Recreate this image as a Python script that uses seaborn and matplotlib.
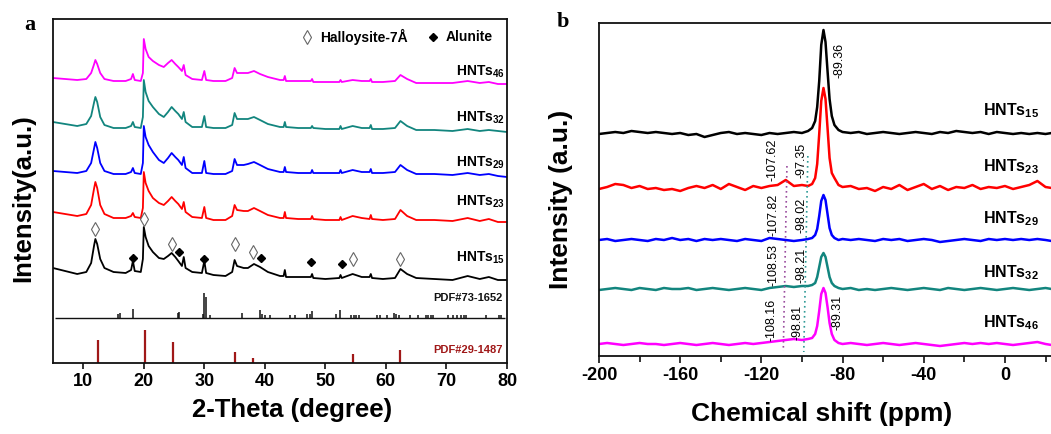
import matplotlib
matplotlib.use("Agg")
import matplotlib.pyplot as plt
from matplotlib.ticker import MultipleLocator, NullLocator
import seaborn as sns

# ---------------- panel a : XRD ----------------
XRD_2THETA = [5, 7, 9, 10.5, 11.3, 11.8, 12.0, 12.3, 12.8, 13.5, 15, 17, 17.9, 18.2, 18.5,
              19.5, 19.85, 20.0, 20.3, 20.8, 21.5, 22.5, 23.3, 24.0, 24.6, 25.2, 25.7, 26.3,
              26.6, 26.9, 28, 29.6, 30.0, 30.3, 31.5, 33.5, 34.6, 35.0, 35.4, 36.5, 37.2, 38.2,
              39.2, 40.5, 42.5, 43.1, 43.3, 43.5, 45.5, 47.6, 47.8, 48.0, 50, 52.3, 52.5, 52.7,
              54.5, 56, 57.3, 57.5, 57.7, 59.5, 61.5, 62.4, 63.5, 65, 68, 71, 73.5, 75.5, 77,
              78.5, 80]

XRD_HNTS15 = [95, 92, 89, 91, 100, 118, 124, 119, 104, 95, 91, 90, 93, 102, 92,
              91, 104, 136, 126, 117, 111, 105, 104, 107, 110, 106, 102, 97,
              106, 95, 91, 90, 102, 90, 88, 87, 91, 103, 97, 95, 95, 99,
              96, 91, 87, 87, 93, 86, 86, 86, 89, 85, 84, 85, 88, 85,
              89, 86, 86, 89, 85, 84, 85, 94, 89, 85, 84, 83, 87, 84, 86,
              83, 83]
XRD_HNTS23 = [151, 149, 147, 149, 158, 175, 181, 175, 158, 149, 145, 145, 147, 150, 146,
              145, 155, 191, 180, 172, 165, 160, 158, 162, 166, 162, 159, 154,
              161, 151, 146, 145, 156, 145, 143, 143, 147, 158, 153, 152, 152, 155,
              152, 148, 145, 145, 151, 145, 144, 144, 147, 144, 143, 143, 146, 143,
              147, 145, 144, 148, 144, 143, 144, 153, 147, 143, 143, 142, 145, 142, 144,
              141, 141]
XRD_HNTS29 = [192, 191, 190, 192, 200, 215, 221, 215, 200, 192, 189, 189, 191, 195, 190,
              189, 200, 237, 226, 218, 211, 203, 200, 205, 210, 206, 203, 198,
              206, 195, 190, 190, 202, 190, 189, 189, 192, 204, 198, 198, 199, 201,
              198, 194, 191, 191, 196, 191, 190, 190, 193, 190, 190, 190, 193, 190,
              193, 191, 191, 194, 190, 190, 191, 198, 193, 189, 189, 188, 190, 188, 189,
              187, 186]
XRD_HNTS32 = [241, 239, 237, 239, 247, 261, 266, 261, 246, 238, 235, 235, 237, 241, 236,
              235, 246, 283, 271, 262, 256, 249, 246, 251, 256, 252, 249, 244,
              251, 241, 236, 236, 247, 236, 235, 235, 238, 250, 244, 244, 244, 246,
              243, 239, 236, 236, 241, 236, 235, 235, 237, 235, 234, 234, 237, 234,
              237, 235, 235, 238, 234, 234, 235, 242, 237, 233, 233, 232, 234, 232, 233,
              232, 231]
XRD_HNTS46 = [285, 284, 283, 284, 290, 299, 303, 299, 290, 284, 282, 282, 284, 289, 283,
              282, 290, 324, 314, 306, 302, 298, 296, 300, 303, 299, 296, 292,
              298, 288, 284, 283, 292, 283, 282, 282, 285, 295, 290, 290, 290, 292,
              289, 286, 283, 283, 287, 282, 282, 282, 284, 281, 281, 281, 283, 281,
              283, 282, 282, 284, 281, 281, 282, 288, 284, 280, 280, 280, 282, 280, 281,
              279, 279]

XRD_NAMES = ["15", "23", "29", "32", "46"]

# reference pattern PDF#73-1652 (alunite), sticks above its own baseline
PDF73_POS = [15.8, 16.0, 18.2, 25.6, 25.8, 29.8, 30.0, 30.2, 30.9, 36.3, 39.2, 39.5, 40.0,
             40.8, 44.2, 45.0, 47.0, 47.4, 47.8, 51.8, 52.4, 54.3, 54.7, 55.0, 55.6, 58.6,
             59.1, 60.2, 61.3, 61.6, 62.1, 64.0, 65.3, 66.6, 67.0, 67.4, 67.8, 70.3, 71.0,
             71.7, 72.4, 72.9, 73.3, 76.5, 78.6, 79.0]
PDF73_H = [4, 5, 9, 5, 6, 4, 25, 21, 3, 5, 8, 4, 3,
           3, 3, 3, 4, 4, 7, 4, 8, 3, 3, 3, 3, 3,
           3, 3, 5, 4, 3, 3, 3, 3, 3, 3, 3, 3, 3,
           3, 3, 3, 3, 3, 3, 3]
PDF73_BASE = 45

# reference pattern PDF#29-1487 (halloysite-7A)
PDF29_POS = [12.4, 20.2, 24.8, 35.0, 38.0, 54.5, 62.4]
PDF29_H = [23, 33, 21, 11, 5, 9, 13]

# phase markers on HNTs15
HALLOYSITE_POS = [11.9, 20.1, 24.6, 35.0, 38.1, 54.5, 62.4]
HALLOYSITE_Y = [134, 144, 119, 119, 111, 104, 104]
ALUNITE_POS = [18.2, 25.8, 30.0, 39.3, 47.7, 52.7]
ALUNITE_Y = [105, 111, 104, 105, 101, 99]

# ---------------- panel b : 29Si NMR ----------------
NMR_PPM = [-200, -196, -192, -188, -184, -180, -176, -172, -168, -164, -160, -156, -152,
           -148, -144, -140, -136, -132, -128, -124, -120, -116, -112, -108, -104, -100,
           -97, -95, -93.5, -92.5, -91.5, -90.5, -89.4, -88.4, -87.4, -86.4, -85.3, -84,
           -82, -80, -76, -72, -68, -64, -60, -56, -52, -48, -44, -40, -36, -32, -28, -24,
           -20, -16, -12, -8, -4, 0, 4, 8, 12, 16, 20, 23]

NMR_HNTS15 = [222, 223, 224, 223, 225, 224, 223, 224, 223, 222, 223, 221, 222,
              219, 221, 223, 224, 222, 223, 222, 221, 223, 222, 223, 224, 223,
              225, 228, 235, 249, 275, 311, 326, 314, 285, 257, 240, 231,
              226, 224, 223, 224, 222, 223, 224, 223, 222, 223, 224, 223, 222, 224, 223, 225,
              224, 223, 224, 222, 224, 223, 222, 223, 222, 223, 222, 223]
NMR_HNTS23 = [167, 169, 172, 171, 168, 170, 167, 168, 166, 167, 165, 168, 170,
              168, 171, 167, 172, 169, 166, 170, 168, 170, 171, 176, 170, 171,
              170, 172, 178, 192, 222, 255, 268, 257, 228, 198, 183, 178,
              171, 169, 170, 167, 168, 165, 169, 167, 171, 166, 169, 172, 167, 170, 166, 169,
              168, 171, 167, 169, 168, 170, 167, 169, 171, 175, 169, 168]
NMR_HNTS29 = [116, 117, 115, 116, 117, 116, 115, 117, 116, 118, 116, 117, 115,
              117, 116, 117, 116, 115, 117, 116, 115, 118, 117, 116, 115, 116,
              117, 118, 121, 127, 140, 155, 161, 156, 142, 128, 121, 118,
              116, 117, 116, 117, 116, 115, 117, 116, 117, 115, 116, 117, 116, 114, 115, 116,
              117, 116, 115, 117, 116, 117, 116, 117, 116, 117, 116, 115]
NMR_HNTS32 = [66, 67, 68, 67, 66, 68, 67, 66, 68, 67, 67, 68, 66,
              67, 68, 67, 66, 67, 68, 67, 66, 68, 69, 70, 69, 70,
              70, 71, 73, 79, 89, 99, 103, 99, 89, 79, 73, 70,
              68, 67, 68, 66, 67, 66, 67, 68, 67, 66, 67, 68, 67, 66, 68, 67,
              66, 67, 68, 67, 66, 67, 68, 67, 66, 67, 68, 67]
NMR_HNTS46 = [12, 13, 12, 11, 12, 13, 12, 12, 11, 12, 13, 12, 11,
              12, 13, 12, 11, 12, 13, 12, 13, 14, 15, 16, 17, 16,
              17, 18, 22, 30, 45, 62, 68, 63, 49, 33, 22, 16,
              13, 12, 13, 12, 11, 12, 13, 12, 11, 12, 13, 12, 11, 10, 11, 12,
              13, 12, 13, 12, 13, 12, 11, 12, 13, 14, 12, 11]

NMR_NAMES = ["15", "23", "29", "32", "46"]
Q4_LABELS = ["-107.62", "-107.82", "-108.53", "-108.16"]
Q3_LABELS = ["-97.35", "-98.02", "-98.21", "-98.81"]
Q2_LABELS = ["-89.36", "-89.31"]
Q4_LINE_PPM = [-107.4, -109.2]
Q3_LINE_PPM = [-97.1, -99.1]

COLORS = ["#000000", "#ff0000", "#0000ff", "#12857e", "#ff00ff"]

# ---------------- style ----------------
sns.set_theme(style="white")
plt.rcParams["font.family"] = ["Liberation Sans", "DejaVu Sans"]
plt.rcParams["mathtext.default"] = "regular"
plt.rcParams["axes.unicode_minus"] = False
plt.rcParams["axes.edgecolor"] = "#111111"
plt.rcParams["axes.linewidth"] = 1.3
plt.rcParams["text.color"] = "black"
plt.rcParams["axes.labelcolor"] = "black"
plt.rcParams["xtick.color"] = "#111111"
plt.rcParams["xtick.labelcolor"] = "black"

fig = plt.figure(figsize=(10.51, 4.34), dpi=100)
axa = fig.add_axes([53 / 1051, 1 - 363 / 434, 454 / 1051, 344 / 434])
axb = fig.add_axes([599 / 1051, 1 - 356 / 434, 452 / 1051, 333 / 434])

# ---- panel a ----
xrd_series = [XRD_HNTS15, XRD_HNTS23, XRD_HNTS29, XRD_HNTS32, XRD_HNTS46]
for vals, col in zip(xrd_series, COLORS):
    sns.lineplot(x=XRD_2THETA, y=vals, ax=axa, color=col, lw=1.3, sort=False, estimator=None)

axa.hlines(PDF73_BASE, 5.4, 79.6, color="#111111", lw=1.0)
axa.vlines(PDF73_POS, PDF73_BASE, [PDF73_BASE + h for h in PDF73_H], color="#111111", lw=1.1)
axa.vlines(PDF29_POS, 0, PDF29_H, color="#a01818", lw=1.6)

axa.plot(HALLOYSITE_POS, HALLOYSITE_Y, ls="none", marker="d", ms=7, mfc="white",
         mec="#666666", mew=0.8)
axa.plot(ALUNITE_POS, ALUNITE_Y, ls="none", marker="D", ms=4.5, mfc="black", mec="black")

# legend symbols
axa.plot([0.559], [0.948], transform=axa.transAxes, ls="none", marker="d", ms=7,
         mfc="white", mec="#666666", mew=0.8, clip_on=False)
axa.text(0.588, 0.948, "Halloysite-7Å", transform=axa.transAxes, fontsize=10,
         fontweight="bold", va="center", ha="left")
axa.plot([0.837], [0.948], transform=axa.transAxes, ls="none", marker="D", ms=4.2,
         mfc="black", mec="black", clip_on=False)
axa.text(0.864, 0.948, "Alunite", transform=axa.transAxes, fontsize=10,
         fontweight="bold", va="center", ha="left")

label_base_a = [101, 157, 196, 241, 287]
for name, yb in zip(XRD_NAMES, label_base_a):
    axa.text(71.6, yb, "HNTs$_{%s}$" % name, fontsize=10, fontweight="bold",
             ha="left", va="baseline")
axa.text(79.3, 62, "PDF#73-1652", fontsize=8, fontweight="bold", ha="right",
         va="baseline", color="#111111")
axa.text(79.3, 10, "PDF#29-1487", fontsize=8, fontweight="bold", ha="right",
         va="baseline", color="#a01818")

axa.set_xlim(5, 80)
axa.set_ylim(0, 344)
axa.set_xticks([10, 20, 30, 40, 50, 60, 70, 80])
axa.yaxis.set_major_locator(NullLocator())
axa.tick_params(axis="x", direction="out", length=4, width=1.2, labelsize=13, pad=3,
                bottom=True)
for t in axa.get_xticklabels():
    t.set_fontweight("bold")
axa.set_xlabel("")
axa.set_ylabel("")

# ---- panel b ----
nmr_series = [NMR_HNTS15, NMR_HNTS23, NMR_HNTS29, NMR_HNTS32, NMR_HNTS46]
for vals, col in zip(nmr_series, COLORS):
    sns.lineplot(x=NMR_PPM, y=vals, ax=axb, color=col, lw=1.8, sort=False, estimator=None)

axb.plot(Q4_LINE_PPM, [190, 5], ls=(0, (1, 2)), color="#9a4c9e", lw=1.2)
axb.plot(Q3_LINE_PPM, [200, 4], ls=(0, (1, 2)), color="#2f9a96", lw=1.2)

q4_xy = [(-114.5, 196), (-114.2, 141), (-113.8, 91), (-115.2, 36)]
q3_xy = [(-100.3, 196), (-100.1, 141), (-100.3, 91), (-102.0, 34)]
q2_xy = [(-81.5, 296), (-82.3, 44)]
for lab, (x, y) in zip(Q4_LABELS, q4_xy):
    axb.text(x, y, lab, rotation=90, fontsize=9, ha="center", va="center")
for lab, (x, y) in zip(Q3_LABELS, q3_xy):
    axb.text(x, y, lab, rotation=90, fontsize=9, ha="center", va="center")
for lab, (x, y) in zip(Q2_LABELS, q2_xy):
    axb.text(x, y, lab, rotation=90, fontsize=9, ha="center", va="center")

label_base_b = [241, 185, 133, 79, 29]
for name, yb in zip(NMR_NAMES, label_base_b):
    axb.text(-11, yb, "HNTs$_{%s}$" % name, fontsize=11.5, fontweight="bold",
             ha="left", va="baseline")

axb.set_xlim(-200, 22.7)
axb.set_ylim(0, 333)
axb.set_xticks([-200, -160, -120, -80, -40, 0])
axb.xaxis.set_minor_locator(MultipleLocator(20))
axb.yaxis.set_major_locator(NullLocator())
axb.tick_params(axis="x", which="major", direction="out", length=5, width=1.2,
                labelsize=13, pad=3, bottom=True)
axb.tick_params(axis="x", which="minor", direction="out", length=4, width=1.2, bottom=True)
for t in axb.get_xticklabels():
    t.set_fontweight("bold")
axb.spines["right"].set_visible(False)
axb.set_xlabel("")
axb.set_ylabel("")

# ---- figure-level text ----
fig.text(23 / 1051, 1 - 198 / 434, "Intensity(a.u.)", rotation=90, fontsize=18.5,
         fontweight="bold", ha="center", va="center")
fig.text(291.7 / 1051, 1 - 417 / 434, "2-Theta (degree)", fontsize=18.5,
         fontweight="bold", ha="center", va="baseline")
fig.text(561 / 1051, 1 - 199 / 434, "Intensity (a.u.)", rotation=90, fontsize=19,
         fontweight="bold", ha="center", va="center")
fig.text(822 / 1051, 1 - 421 / 434, "Chemical shift (ppm)", fontsize=19,
         fontweight="bold", ha="center", va="baseline")
fig.text(30 / 1051, 1 - 25 / 434, "a", family="Liberation Serif", fontsize=16,
         fontweight="bold", ha="center", va="center")
fig.text(563 / 1051, 1 - 22 / 434, "b", family="Liberation Serif", fontsize=16,
         fontweight="bold", ha="center", va="center")

fig.savefig("out.png", dpi=100, facecolor="white")
